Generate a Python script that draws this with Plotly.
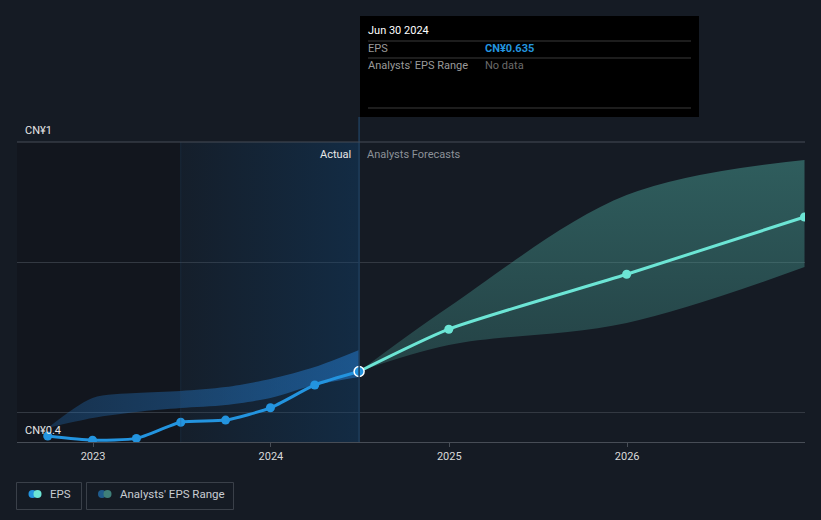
import plotly.graph_objects as go

# ---------------- data ----------------
actual_dates = ["2022-09-30", "2022-12-31", "2023-03-31", "2023-06-30",
                "2023-09-30", "2023-12-31", "2024-03-31", "2024-06-30"]
actual_eps = [0.420, 0.406, 0.412, 0.466, 0.473, 0.514, 0.590, 0.635]
past_range_low = [0.447, 0.480, 0.500, 0.513, 0.523, 0.547, 0.590, 0.617]
past_range_high = [0.447, 0.547, 0.563, 0.570, 0.583, 0.610, 0.650, 0.707]

forecast_dates = ["2024-06-30", "2024-12-31", "2025-12-31", "2026-12-31"]
forecast_eps = [0.635, 0.776, 0.959, 1.150]
forecast_low = [0.635, 0.723, 0.797, 0.983]
forecast_high = [0.635, 0.850, 1.223, 1.340]

tick_vals = ["2023-01-01", "2024-01-01", "2025-01-01", "2026-01-01"]
tick_text = ["2023", "2024", "2025", "2026"]

x_range = ["2022-07-29", "2027-01-01"]
y_range = [0.4, 1.4]
grid_vals = [0.5, 1.0]

past_start = "2022-07-29"
highlight_start = "2023-06-30"
today = "2024-06-30"

# ---------------- style ----------------
BG = "#151b24"
FONT = "Roboto, Noto Sans, sans-serif"
W, H = 821, 520
L, R, T, B = 17, 16, 142, 78
PW, PH = W - L - R, H - T - B
TX = -2  # annotation padding compensation


def px_x(px):
    return (px - L) / PW


def px_y(py):
    return (H - B - py) / PH


def label(x, y, text, color, size=11, anchor="left"):
    fig.add_annotation(xref="paper", yref="paper",
                       x=px_x(x + (TX if anchor == "left" else -TX)), y=px_y(y), text=text,
                       showarrow=False, xanchor=anchor, yanchor="middle",
                       font=dict(color=color, size=size, family=FONT))


fig = go.Figure()

# darker "past" region
fig.add_shape(type="rect", xref="x", yref="paper", x0=past_start, x1=highlight_start,
              y0=0, y1=1, fillcolor="rgba(12,12,16,0.28)", line_width=0, layer="below")

# highlight region (gradient)
fig.add_trace(go.Scatter(
    x=[highlight_start, today, today, highlight_start, highlight_start],
    y=[y_range[0], y_range[0], y_range[1], y_range[1], y_range[0]],
    mode="lines", line=dict(width=0), fill="toself",
    fillgradient=dict(type="horizontal",
                      colorscale=[[0, "rgba(15,70,120,0.08)"], [1, "rgba(15,70,120,0.38)"]]),
    hoverinfo="skip", showlegend=False))
fig.add_shape(type="line", xref="x", yref="paper", x0=highlight_start, x1=highlight_start,
              y0=0, y1=1, line=dict(color="rgba(40,80,120,0.3)", width=1))

# past analysts range
fig.add_trace(go.Scatter(x=actual_dates, y=past_range_low, mode="lines",
                         line=dict(width=0, shape="spline", smoothing=0.8),
                         hoverinfo="skip", showlegend=False))
fig.add_trace(go.Scatter(x=actual_dates, y=past_range_high, mode="lines",
                         line=dict(width=0, shape="spline", smoothing=0.8),
                         fill="tonexty",
                         fillgradient=dict(type="horizontal",
                                           colorscale=[[0, "rgba(35,120,200,0.28)"],
                                                       [1, "rgba(35,120,200,0.55)"]]),
                         hoverinfo="skip", showlegend=False))

# forecast analysts range
fig.add_trace(go.Scatter(x=forecast_dates, y=forecast_low, mode="lines",
                         line=dict(width=0, shape="spline", smoothing=1.0),
                         hoverinfo="skip", showlegend=False))
fig.add_trace(go.Scatter(x=forecast_dates, y=forecast_high, mode="lines",
                         line=dict(width=0, shape="spline", smoothing=1.0),
                         fill="tonexty",
                         fillgradient=dict(type="vertical",
                                           colorscale=[[0, "rgba(75,165,155,0.28)"],
                                                       [1, "rgba(75,165,155,0.48)"]]),
                         hoverinfo="skip", showlegend=False))

# hover / today line
fig.add_shape(type="line", xref="x", yref="paper", x0=today, x1=today,
              y0=0, y1=px_y(117), line=dict(color="#1f3e5c", width=1.5))

# EPS lines
fig.add_trace(go.Scatter(x=forecast_dates, y=forecast_eps, mode="lines+markers",
                         line=dict(color="#6ce5d5", width=3, shape="spline", smoothing=0.6),
                         marker=dict(size=9, color="#6ce5d5"),
                         showlegend=False, hoverinfo="skip"))
fig.add_trace(go.Scatter(x=actual_dates, y=actual_eps, mode="lines+markers",
                         line=dict(color="#2394df", width=3, shape="spline", smoothing=0.6),
                         marker=dict(size=9, color="#2394df"),
                         showlegend=False, hoverinfo="skip"))
fig.add_trace(go.Scatter(x=[actual_dates[-1]], y=[actual_eps[-1]], mode="markers",
                         marker=dict(size=10, color="#2394df", line=dict(color="white", width=1.5)),
                         showlegend=False, hoverinfo="skip"))

# top border line
fig.add_shape(type="line", xref="paper", yref="paper", x0=0, x1=1, y0=1, y1=1,
              line=dict(color="#474d56", width=1))

# axis value labels
label(25, 130, "CN¥1", "#e6e6e6")
label(25, 430, "CN¥0.4", "#e6e6e6")

# Actual / Analysts Forecasts
label(351, 154, "Actual", "#e8e8e8", anchor="right")
label(367, 154, "Analysts Forecasts", "#8c9198")

# tooltip box
fig.add_shape(type="rect", xref="paper", yref="paper", x0=px_x(360), x1=px_x(699),
              y0=px_y(117), y1=px_y(16), fillcolor="#000000", line_width=0)
for ly in (41, 58, 108):
    fig.add_shape(type="line", xref="paper", yref="paper", x0=px_x(368), x1=px_x(691),
                  y0=px_y(ly), y1=px_y(ly), line=dict(color="#3a3a3a", width=1))
label(368, 31, "Jun 30 2024", "#ffffff")
label(368, 49, "EPS", "#9a9a9a")
label(485, 49, "<b>CN¥0.635</b>", "#2394df")
label(368, 66, "Analysts' EPS Range", "#9a9a9a")
label(485, 66, "No data", "#6b6b6b")

# custom legend
fig.add_shape(type="rect", xref="paper", yref="paper", x0=px_x(16.5), x1=px_x(81.5),
              y0=px_y(509.5), y1=px_y(482.5), line=dict(color="#3a4049", width=1),
              fillcolor="rgba(0,0,0,0)")
fig.add_shape(type="rect", xref="paper", yref="paper", x0=px_x(86.5), x1=px_x(233.5),
              y0=px_y(509.5), y1=px_y(482.5), line=dict(color="#3a4049", width=1),
              fillcolor="rgba(0,0,0,0)")
for cx, col in ((32.5, "#2394df"), (37.5, "#6ce5d5"), (102, "#1f5b8c"), (107.5, "#3f7f79")):
    fig.add_shape(type="circle", xref="paper", yref="paper", x0=px_x(cx - 4), x1=px_x(cx + 4),
                  y0=px_y(498), y1=px_y(490), fillcolor=col, line_width=0)
label(50, 494, "EPS", "#c8ccd2", size=11.5)
label(120, 494, "Analysts' EPS Range", "#c8ccd2", size=11.5)

fig.update_layout(
    width=W, height=H,
    margin=dict(l=L, r=R, t=T, b=B, pad=0),
    paper_bgcolor=BG, plot_bgcolor=BG,
    font=dict(family=FONT, color="#d9d9d9", size=11),
    showlegend=False,
    xaxis=dict(type="date", range=x_range, tickvals=tick_vals, ticktext=tick_text,
               showgrid=False, zeroline=False, showline=True, linecolor="#474d56", linewidth=1,
               ticks="outside", ticklen=4, tickcolor="#474d56",
               tickfont=dict(color="#d9d9d9", size=11, family=FONT), fixedrange=True),
    yaxis=dict(range=y_range, tickvals=grid_vals, showticklabels=False, showgrid=True,
               gridcolor="#333942", gridwidth=1, zeroline=False, showline=False, fixedrange=True),
)

fig.write_html("out.html", config={"displayModeBar": False},
               post_script="document.body.style.margin='0';document.body.style.background='%s';" % BG)
